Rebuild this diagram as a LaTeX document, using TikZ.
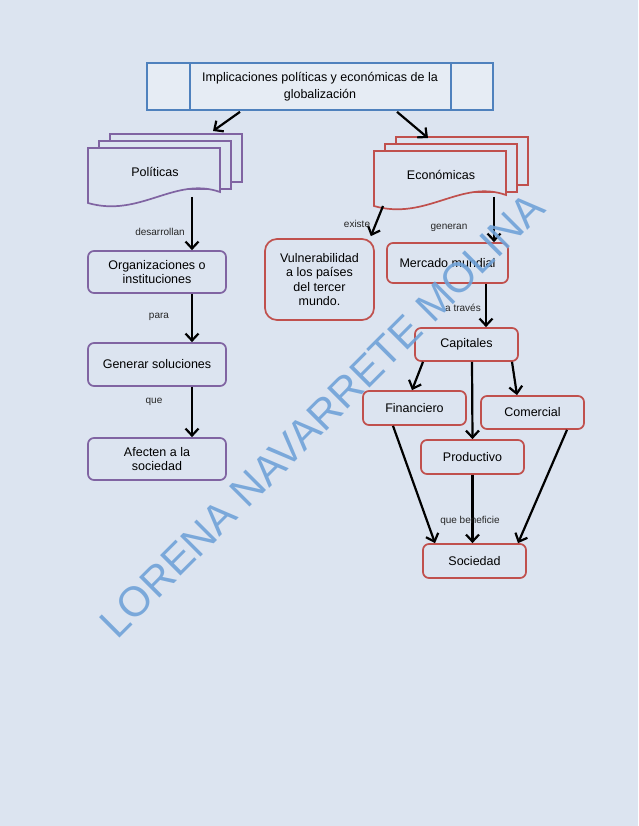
\documentclass[tikz,border=0pt]{standalone}
\usepackage{fontspec}
\setmainfont{Liberation Sans}
\usetikzlibrary{positioning,arrows.meta,calc}
\definecolor{bgc}{RGB}{220,228,240}
\definecolor{titc}{RGB}{79,129,189}
\definecolor{polc}{RGB}{128,100,162}
\definecolor{ecoc}{RGB}{192,80,77}
\definecolor{wmc}{RGB}{112,162,216}
\tikzset{
  box/.style={draw, rounded corners=6pt, line width=1.7pt, fill=bgc,
              align=center, font=\fontsize{12.5}{14}\selectfont, inner sep=2pt},
  polbox/.style={box, draw=polc, minimum width=138pt},
  ecobox/.style={box, draw=ecoc, minimum width=103pt, minimum height=34pt},
  flow/.style={-{Straight Barb[length=7pt,width=13pt]}, line width=2.2pt, black},
  lbl/.style={font=\fontsize{10}{11}\selectfont, text=black!85},
}
\begin{document}
\begin{tikzpicture}[x=1pt, y=-1pt]
\fill[bgc] (0,0) rectangle (638,826);
\useasboundingbox (0,0) rectangle (638,826);

% ---------------------------------------------------------------- title
\node[draw=titc, fill=bgc!70!white, line width=1.7pt, minimum width=346pt,
      minimum height=47pt, align=center, font=\fontsize{12.5}{17}\selectfont]
  (title) at (320,86.5)
  {Implicaciones políticas y económicas de la\\ globalización};
\draw[titc, line width=1.7pt] (190,63) -- (190,110) (451,63) -- (451,110);

% ---------------------------------------------------------------- document stacks
\foreach \sx/\sy/\col/\nm/\txt in {88/148/polc/pol/Políticas, 374/151/ecoc/eco/Económicas} {
  \foreach \d in {2,1}
    \filldraw[draw=\col, fill=bgc, line width=1.7pt]
      (\sx+11*\d,\sy-7*\d) rectangle ++(132,48);
  \filldraw[draw=\col, fill=bgc, line width=1.7pt]
    (\sx,\sy) -- (\sx+132,\sy) -- (\sx+132,\sy+44)
    .. controls (\sx+87,\sy+28) and (\sx+52,\sy+70) .. (\sx,\sy+55) -- cycle;
  \node[font=\fontsize{12.5}{14}\selectfont] (\nm) at (\sx+67,\sy+24) {\txt};
}
\coordinate (polin) at (213,131);
\coordinate (polout) at (192,197);
\coordinate (ecoin) at (428,138);
\coordinate (ecoleft) at (383,206);
\coordinate (ecoright) at (494,197);

\draw[flow] ($(title.south)+(-80,1)$) -- (polin);
\draw[flow] ($(title.south)+(77,1)$) -- (ecoin);

% ---------------------------------------------------------------- left column
\node[polbox, minimum height=42pt] (org) at (157,272)
  {Organizaciones o\\ instituciones};
\node[polbox, minimum height=43pt] (gen) at (157,364.5) {Generar soluciones};
\node[polbox, minimum height=42pt] (afe) at (157,459) {Afecten a la\\ sociedad};

\draw[flow] (polout) -- (polout |- org.north);
\draw[flow] ($(org.south)+(35,0)$) -- ($(gen.north)+(35,0)$);
\draw[flow] ($(gen.south)+(35,0)$) -- ($(afe.north)+(35,0)$);
\node[lbl] at (160,232) {desarrollan};
\node[lbl] at (159,317) {para};
\node[lbl] at (154,402) {que};

% ---------------------------------------------------------------- right column
\node[box, draw=ecoc, rounded corners=12pt, minimum width=109pt,
      minimum height=81pt, font=\fontsize{12.5}{14.5}\selectfont] (vul)
  at (319.5,279.5) {Vulnerabilidad\\ a los países\\ del tercer\\ mundo.};
\node[ecobox, minimum width=121pt, minimum height=40pt] (mer) at (447.5,263)
  {Mercado mundial};
\node[ecobox, minimum height=33pt] (cap) at (466.5,344.5) {Capitales};
\node[ecobox] (fin) at (414.5,408) {Financiero};
\node[ecobox, minimum height=33pt] (com) at (532.5,412.5) {Comercial};
\node[ecobox] (pro) at (472.5,457) {Productivo};
\node[ecobox] (soc) at (474.5,561) {Sociedad};

\draw[flow] (ecoleft) -- ($(vul.north east)+(-4,-2)$);
\draw[flow] (ecoright) -- (ecoright |- mer.north);
\draw[flow] ($(mer.south)+(38.5,0)$) -- ($(cap.north)+(19.5,0)$);
\draw[flow] ($(cap.south)+(-43.5,0)$) -- ($(fin.north)+(-2.5,0)$);
\draw[flow] ($(cap.south)+(5.5,0)$) -- (pro.north);
\draw[flow] ($(cap.south)+(45.5,0)$) -- ($(com.north)+(-15.5,0)$);
\draw[flow] ($(fin.south)+(-21.5,0)$) -- ($(soc.north)+(-39.5,0)$);
\draw[flow] (pro.south) -- ($(soc.north)+(-2,0)$);
\draw[flow] ($(com.south)+(34.5,0)$) -- ($(soc.north)+(43.5,0)$);
\node[lbl] at (357,224) {existe};
\node[lbl] at (449,228) {generan};
\node[lbl] at (463,308) {a través};
\node[lbl] at (470,521) {que beneficie};

% ---------------------------------------------------------------- watermark
\node[text=wmc, opacity=0.9, rotate=45, font=\fontsize{42}{42}\selectfont]
  (mark) at (322,415) {LORENA NAVARRETE MOLINA};

\end{tikzpicture}
\end{document}
